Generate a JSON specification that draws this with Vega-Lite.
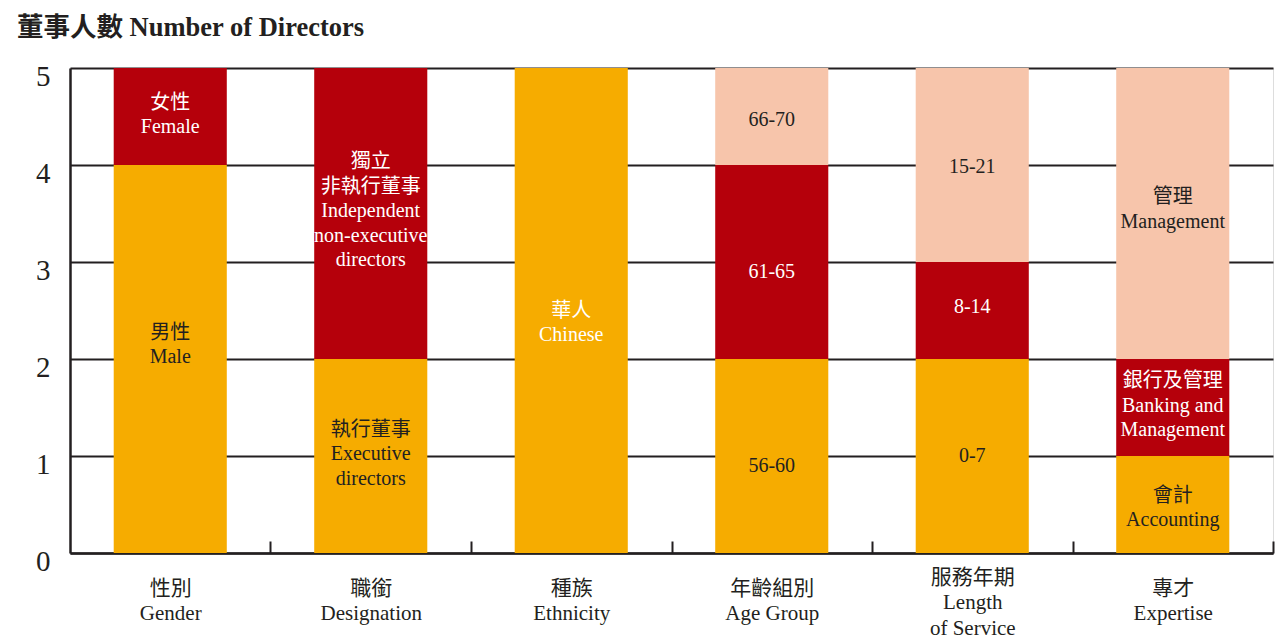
{
  "$schema": "https://vega.github.io/schema/vega-lite/v6.json",
  "width": 1203,
  "height": 485,
  "autosize": {"type": "none"},
  "padding": {"left": 70, "top": 68, "right": 9, "bottom": 89},
  "background": "#ffffff",
  "title": {
    "text": "董事人數 Number of Directors",
    "anchor": "start",
    "frame": "group",
    "dx": -53,
    "dy": 32,
    "offset": 26,
    "baseline": "bottom",
    "fontSize": 26.5,
    "fontWeight": "bold",
    "font": "Liberation Serif, Noto Sans CJK TC",
    "color": "#231f20"
  },
  "data": {
    "values": [
      {"group": "性別|Gender", "tier": 1, "n": 4, "labelAt": 2.27, "label": ["男性", "Male"]},
      {"group": "性別|Gender", "tier": 2, "n": 1, "labelAt": 4.64, "label": ["女性", "Female"]},
      {"group": "職銜|Designation", "tier": 1, "n": 2, "labelAt": 1.27, "label": ["執行董事", "Executive", "directors"]},
      {"group": "職銜|Designation", "tier": 2, "n": 3, "labelAt": 4.03, "label": ["獨立", "非執行董事", "Independent", "non-executive", "directors"]},
      {"group": "種族|Ethnicity", "tier": 1, "n": 5, "labelAt": 2.5, "label": ["華人", "Chinese"]},
      {"group": "年齡組別|Age Group", "tier": 1, "n": 2, "labelAt": 0.9, "label": ["56-60"]},
      {"group": "年齡組別|Age Group", "tier": 2, "n": 2, "labelAt": 2.9, "label": ["61-65"]},
      {"group": "年齡組別|Age Group", "tier": 3, "n": 1, "labelAt": 4.46, "label": ["66-70"]},
      {"group": "服務年期|Length|of Service", "tier": 1, "n": 2, "labelAt": 1.0, "label": ["0-7"]},
      {"group": "服務年期|Length|of Service", "tier": 2, "n": 1, "labelAt": 2.54, "label": ["8-14"]},
      {"group": "服務年期|Length|of Service", "tier": 3, "n": 2, "labelAt": 3.98, "label": ["15-21"]},
      {"group": "專才|Expertise", "tier": 1, "n": 1, "labelAt": 0.59, "label": ["會計", "Accounting"]},
      {"group": "專才|Expertise", "tier": 2, "n": 1, "labelAt": 1.77, "label": ["銀行及管理", "Banking and", "Management"]},
      {"group": "專才|Expertise", "tier": 3, "n": 3, "labelAt": 3.67, "label": ["管理", "Management"]}
    ]
  },
  "encoding": {
    "x": {
      "field": "group",
      "type": "nominal",
      "sort": null,
      "scale": {"paddingInner": 0.436, "paddingOuter": 0.218},
      "axis": {
        "title": null,
        "labelAngle": 0,
        "labelExpr": "split(datum.label, '|')",
        "labelFont": "Liberation Serif, Noto Sans CJK TC",
        "labelFontSize": 21,
        "labelLineHeight": 25.5,
        "labelColor": "#231f20",
        "labelBaseline": "middle",
        "labelPadding": {"condition": {"test": "datum.value == '服務年期|Length|of Service'", "value": 36}, "value": 47},
        "tickOffset": 100.25,
        "labelOffset": -100.25,
        "tickSize": -12,
        "tickWidth": 2,
        "tickColor": "#231f20",
        "domainColor": "#231f20",
        "domainWidth": 2.5,
        "grid": false
      }
    }
  },
  "layer": [
    {
      "mark": {"type": "bar"},
      "encoding": {
        "y": {
          "field": "n",
          "type": "quantitative",
          "stack": "zero",
          "scale": {"domain": [0, 5], "nice": false},
          "axis": {
            "title": null,
            "values": [0, 1, 2, 3, 4, 5],
            "format": "d",
            "ticks": false,
            "labelFont": "Liberation Serif",
            "labelFontSize": 29,
            "labelColor": "#231f20",
            "labelPadding": 20,
            "labelOffset": 8,
            "domainColor": "#231f20",
            "domainWidth": 2.5,
            "grid": true,
            "gridColor": "#231f20",
            "gridWidth": 2,
            "gridOpacity": 1
          }
        },
        "order": {"field": "tier", "type": "quantitative"},
        "color": {
          "field": "tier",
          "type": "nominal",
          "scale": {"domain": [1, 2, 3], "range": ["#f6ac00", "#b5000b", "#f7c5ab"]},
          "legend": null
        }
      }
    },
    {
      "mark": {
        "type": "text",
        "baseline": "middle",
        "align": "center",
        "font": "Liberation Serif, Noto Sans CJK TC",
        "fontSize": 20,
        "lineHeight": 24.5
      },
      "encoding": {
        "y": {"field": "labelAt", "type": "quantitative", "stack": null},
        "text": {"field": "label"},
        "color": {
          "condition": {"test": "datum.tier == 2 || datum.group == '種族|Ethnicity'", "value": "#ffffff"},
          "value": "#231f20"
        }
      }
    }
  ]
}
